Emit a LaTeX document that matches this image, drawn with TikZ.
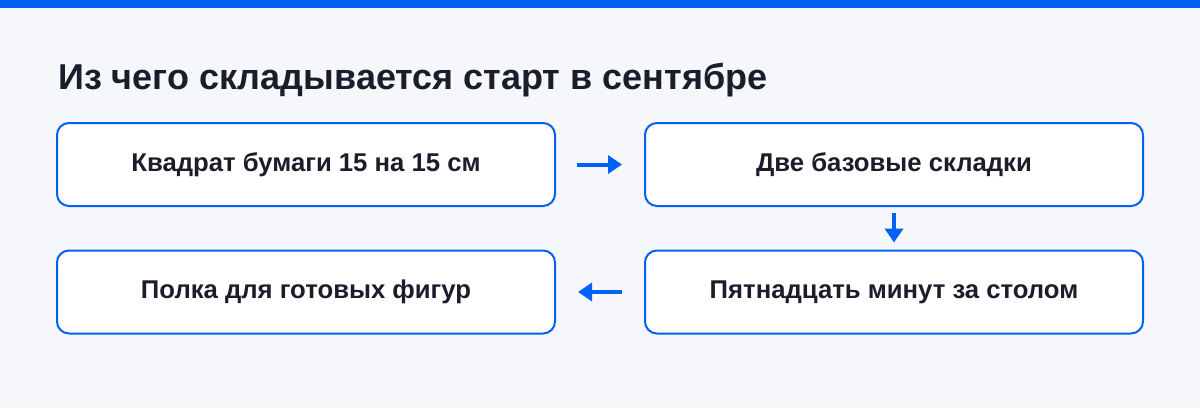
\documentclass[tikz,border=0pt]{standalone}
\usepackage{fontspec}
\setmainfont{Liberation Sans}
\usetikzlibrary{arrows.meta}
\definecolor{bgc}{HTML}{F6F7FB}
\definecolor{bluec}{HTML}{0062F5}
\definecolor{textc}{HTML}{1B1D2B}
\tikzset{
  stepbox/.style={draw=bluec, line width=2pt, fill=white, rounded corners=12pt,
    minimum width=498pt, minimum height=83pt, inner sep=0pt,
    font=\fontsize{25.7}{30}\selectfont\bfseries, text=textc},
  flow/.style={draw=bluec, line width=4pt, -{Triangle[length=14pt,width=18pt]}},
}
\begin{document}
\begin{tikzpicture}[x=1pt,y=1pt]
\fill[bgc] (0,0) rectangle (1200,408);
\useasboundingbox (0,0) rectangle (1200,408);
\fill[bluec] (0,400) rectangle (1200,408);
\node[anchor=base west, inner sep=0pt, text=textc, font=\fontsize{36}{42}\selectfont\bfseries] (title) at (58,318.5) {Из чего складывается старт в сентябре};
\node[stepbox] (a) at (306,243.5) {Квадрат бумаги 15 на 15 см};
\node[stepbox] (b) at (894,243.5) {Две базовые складки};
\node[stepbox] (c) at (306,116) {Полка для готовых фигур};
\node[stepbox] (d) at (894,116) {Пятнадцать минут за столом};
\draw[flow] ([xshift=21pt]a.east) -- ([xshift=-22pt]b.west);
\draw[flow] ([yshift=-6pt]b.south) -- ([yshift=7pt]d.north);
\draw[flow] ([xshift=-22pt]d.west) -- ([xshift=22pt]c.east);
\end{tikzpicture}
\end{document}
